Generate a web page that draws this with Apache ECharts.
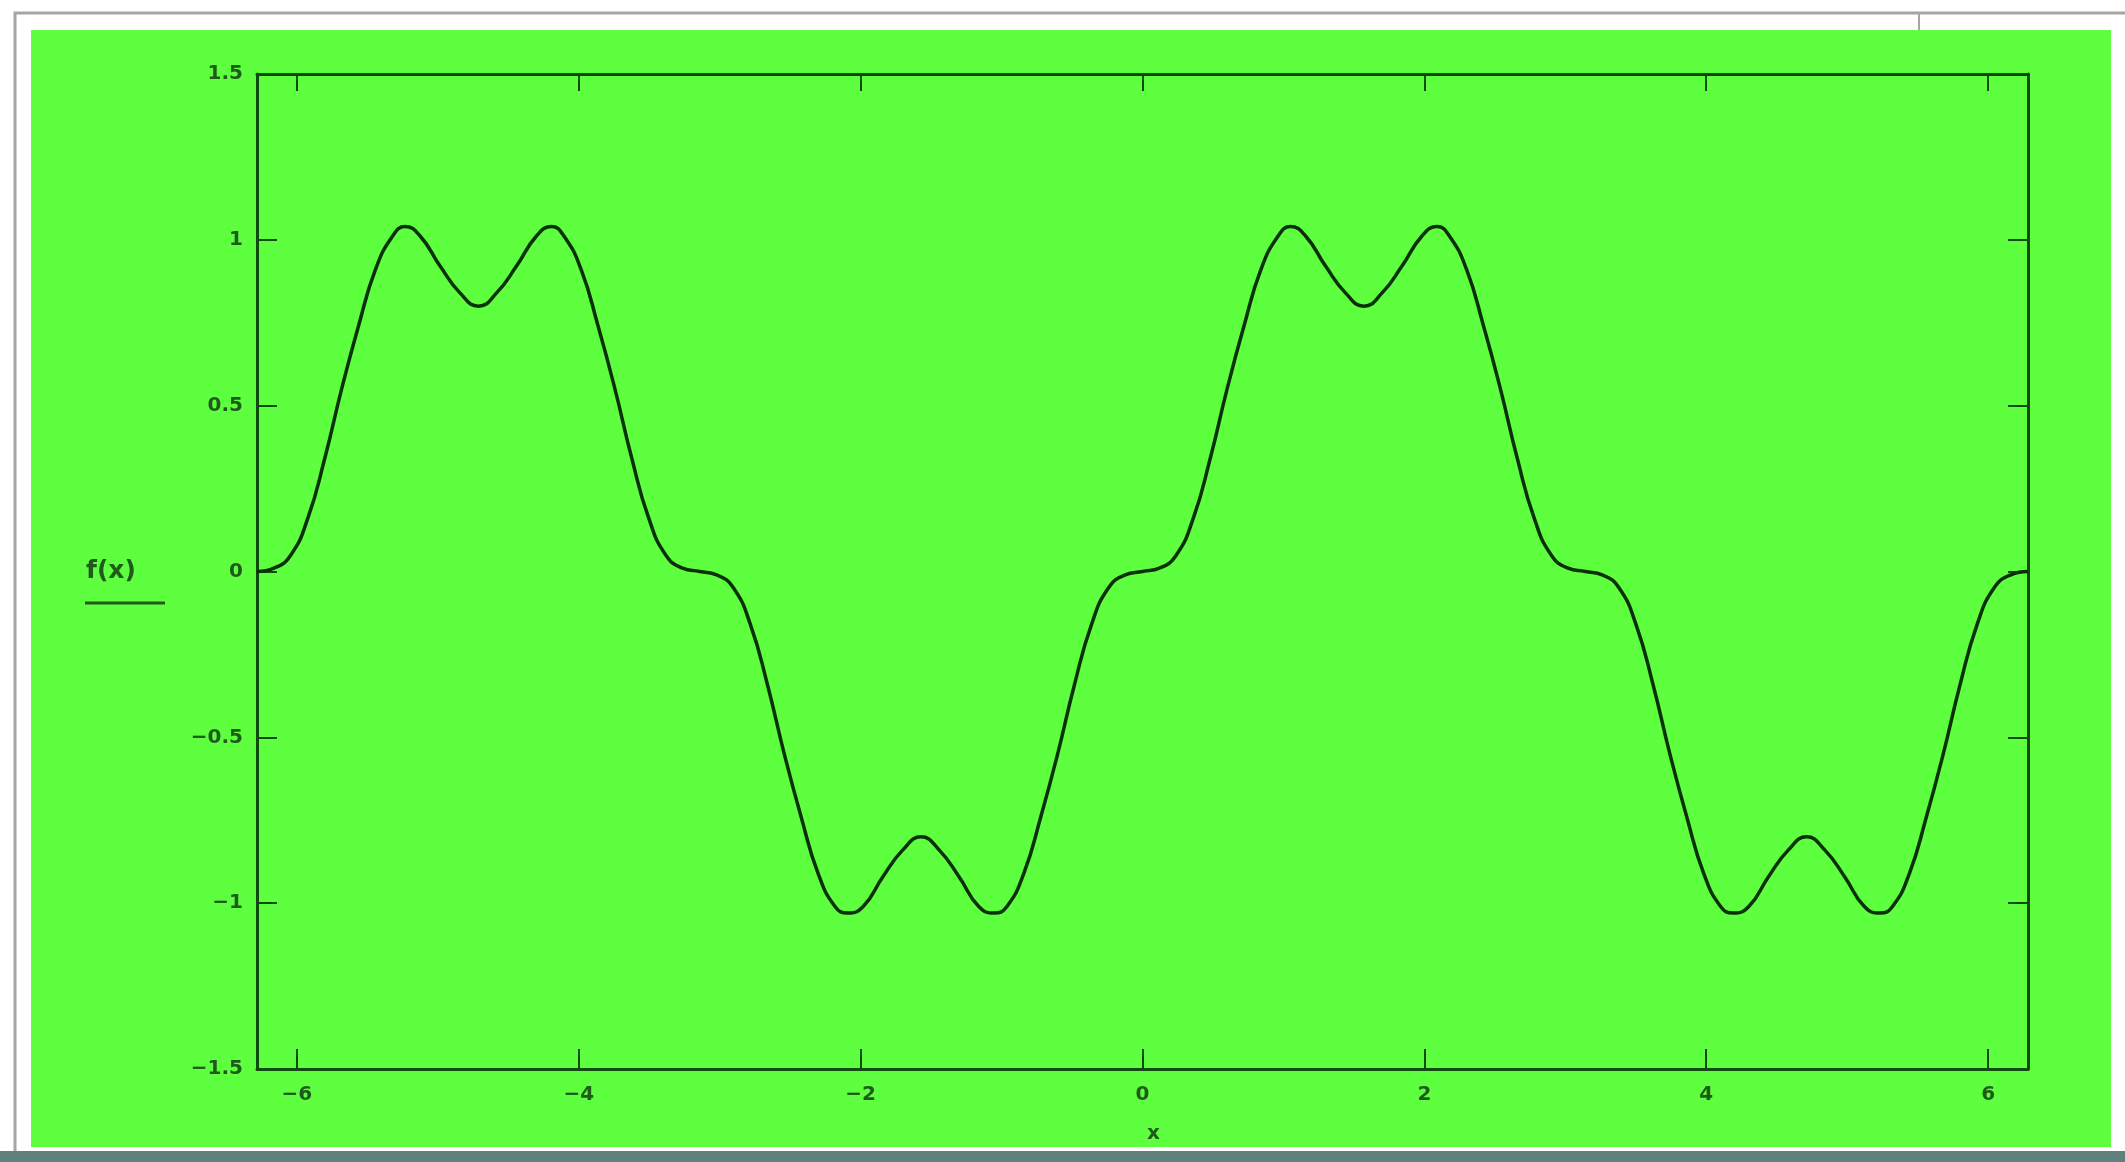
<!DOCTYPE html>
<html>
<head>
<meta charset="utf-8">
<script src="https://cdn.jsdelivr.net/npm/echarts@6/dist/echarts.min.js"></script>
<style>
  html, body { margin: 0; padding: 0; background: #ffffff; }
  #chart { width: 2125px; height: 1162px; }
</style>
</head>
<body>
<div id="chart"></div>
<script>
// x positions (radians), -2π .. 2π
const xValues = [
  -6.283, -6.163, -6.043, -5.923, -5.803, -5.683, -5.563, -5.443, -5.323, -5.233, -5.123, -4.983, -4.843,
  -4.712, -4.583, -4.443, -4.303, -4.193, -4.103, -3.983, -3.863, -3.743, -3.623, -3.503, -3.383, -3.263,
  -3.142, -3.022, -2.902, -2.782, -2.662, -2.542, -2.422, -2.302, -2.182, -2.092, -1.982, -1.842, -1.702,
  -1.571, -1.442, -1.302, -1.162, -1.052, -0.962, -0.842, -0.722, -0.602, -0.482, -0.362, -0.242, -0.122,
  0, 0.12, 0.24, 0.36, 0.48, 0.60, 0.72, 0.84, 0.96, 1.05, 1.16, 1.30, 1.44,
  1.571, 1.70, 1.84, 1.98, 2.09, 2.18, 2.30, 2.42, 2.54, 2.66, 2.78, 2.90, 3.02,
  3.142, 3.262, 3.382, 3.502, 3.622, 3.742, 3.862, 3.982, 4.102, 4.192, 4.302, 4.442, 4.582,
  4.712, 4.842, 4.982, 5.122, 5.232, 5.322, 5.442, 5.562, 5.682, 5.802, 5.922, 6.042, 6.162, 6.283
];
// f(x) values
const fValues = [
  0.00, 0.01, 0.05, 0.16, 0.34, 0.55, 0.74, 0.91, 1.01, 1.04, 1.01, 0.92, 0.84,
  0.80, 0.84, 0.92, 1.01, 1.04, 1.01, 0.91, 0.74, 0.55, 0.34, 0.16, 0.05, 0.01,
  0.00, -0.01, -0.05, -0.16, -0.34, -0.55, -0.74, -0.91, -1.01, -1.03, -1.01, -0.92, -0.84,
  -0.80, -0.84, -0.92, -1.01, -1.03, -1.01, -0.91, -0.74, -0.55, -0.34, -0.16, -0.05, -0.01,
  0.00, 0.01, 0.05, 0.16, 0.34, 0.55, 0.74, 0.91, 1.01, 1.04, 1.01, 0.92, 0.84,
  0.80, 0.84, 0.92, 1.01, 1.04, 1.01, 0.91, 0.74, 0.55, 0.34, 0.16, 0.05, 0.01,
  0.00, -0.01, -0.05, -0.16, -0.34, -0.55, -0.74, -0.91, -1.01, -1.03, -1.01, -0.92, -0.84,
  -0.80, -0.84, -0.92, -1.01, -1.03, -1.01, -0.91, -0.74, -0.55, -0.34, -0.16, -0.05, -0.01, 0.00
];
const xTickValues = [-6, -4, -2, 0, 2, 4, 6];
const xRange = [-6.2832, 6.2832];
const yRange = [-1.5, 1.5];
const yStep = 0.5;
const xAxisTitle = 'x';
const yAxisTitle = 'f(x)';

const GREEN = '#5eff3f';
const AXIS = '#0e4a0e';
const LABEL = '#1f5a1b';
const fmt = v => (v < 0 ? '\u2212' + Math.abs(v) : String(v));

const chart = echarts.init(document.getElementById('chart'), null, { renderer: 'canvas' });
const labelFont = { color: LABEL, fontSize: 20, fontWeight: 'bold', fontFamily: 'DejaVu Sans' };

chart.setOption({
  backgroundColor: '#ffffff',
  animation: false,
  graphic: [
    { type: 'rect', z: -10, shape: { x: 15, y: 13, width: 2125, height: 1140 }, style: { fill: '#ffffff', stroke: '#a8a4a0', lineWidth: 3 } },
    { type: 'rect', z: -9, shape: { x: 31, y: 30, width: 2080, height: 1117 }, style: { fill: GREEN } },
    { type: 'rect', z: -9, shape: { x: 0, y: 1151, width: 2125, height: 11 }, style: { fill: '#5f807c' } },
    { type: 'line', z: -9, shape: { x1: 1919, y1: 13, x2: 1919, y2: 30 }, style: { stroke: '#a9a6a2', lineWidth: 2 } },
    { type: 'text', left: 86, top: 559, style: { text: yAxisTitle, fill: LABEL, font: 'bold 25px "DejaVu Sans"' } },
    { type: 'line', shape: { x1: 85, y1: 603, x2: 165, y2: 603 }, style: { stroke: LABEL, lineWidth: 3 } }
  ],
  grid: { left: 257, right: 97, top: 74, bottom: 93, containLabel: false, show: false },
  xAxis: [
    {
      type: 'value', position: 'bottom', min: xRange[0], max: xRange[1],
      name: xAxisTitle, nameLocation: 'middle', nameGap: 55,
      nameTextStyle: { color: LABEL, fontSize: 20, fontWeight: 'bold', fontFamily: 'DejaVu Sans', padding: [0, 0, 0, 22] },
      axisLine: { show: true, onZero: false, lineStyle: { color: AXIS, width: 3 } },
      axisTick: { show: true, inside: true, length: 20, customValues: xTickValues, lineStyle: { color: AXIS, width: 2 } },
      axisLabel: Object.assign({ show: true, margin: 16, customValues: xTickValues, formatter: fmt }, labelFont),
      splitLine: { show: false }
    },
    {
      type: 'value', position: 'top', min: xRange[0], max: xRange[1],
      axisLine: { show: true, onZero: false, lineStyle: { color: AXIS, width: 3 } },
      axisTick: { show: true, inside: true, length: 17, customValues: xTickValues, lineStyle: { color: AXIS, width: 2 } },
      axisLabel: { show: false },
      splitLine: { show: false }
    }
  ],
  yAxis: [
    {
      type: 'value', position: 'left', min: yRange[0], max: yRange[1], interval: yStep,
      axisLine: { show: true, onZero: false, lineStyle: { color: AXIS, width: 3 } },
      axisTick: { show: true, inside: true, length: 20, lineStyle: { color: AXIS, width: 2 } },
      axisLabel: Object.assign({ show: true, margin: 14, formatter: fmt }, labelFont),
      splitLine: { show: false }
    },
    {
      type: 'value', position: 'right', min: yRange[0], max: yRange[1], interval: yStep,
      axisLine: { show: true, onZero: false, lineStyle: { color: AXIS, width: 3 } },
      axisTick: { show: true, inside: true, length: 20, lineStyle: { color: AXIS, width: 2 } },
      axisLabel: { show: false },
      splitLine: { show: false }
    }
  ],
  series: [
    {
      type: 'line', xAxisIndex: 0, yAxisIndex: 0,
      data: xValues.map((x, i) => [x, fValues[i]]),
      showSymbol: false, smooth: 0.5,
      lineStyle: { color: '#0a300a', width: 3.5 }
    }
  ]
});
</script>
</body>
</html>
